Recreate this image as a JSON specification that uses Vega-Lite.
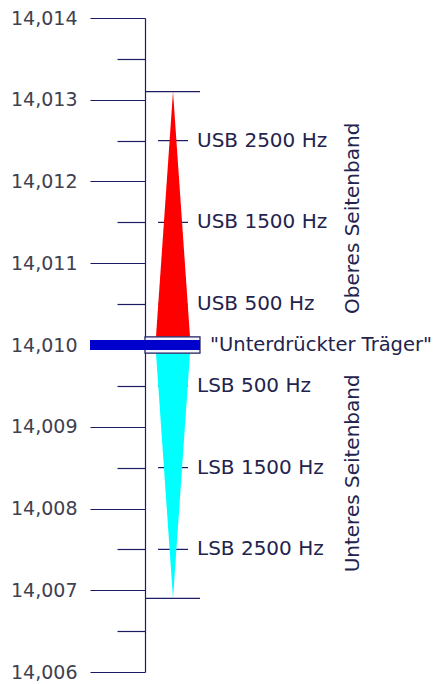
{
  "$schema": "https://vega.github.io/schema/vega-lite/v6.json",
  "width": 293,
  "height": 654,
  "autosize": "none",
  "padding": {"left": 145, "top": 18, "right": 0, "bottom": 12},
  "background": "white",
  "config": {"view": {"stroke": null}, "font": "DejaVu Sans"},
  "datasets": {
    "usb": [{"freq": 14.0101, "lo": -1, "hi": 1}, {"freq": 14.0131, "lo": 0, "hi": 0}],
    "lsb": [{"freq": 14.0099, "lo": -1, "hi": 1}, {"freq": 14.0069, "lo": 0, "hi": 0}],
    "labels": [
      {"freq": 14.0125, "label": "USB 2500 Hz"},
      {"freq": 14.0115, "label": "USB 1500 Hz"},
      {"freq": 14.0105, "label": "USB 500 Hz"},
      {"freq": 14.0095, "label": "LSB 500 Hz"},
      {"freq": 14.0085, "label": "LSB 1500 Hz"},
      {"freq": 14.0075, "label": "LSB 2500 Hz"}
    ],
    "edges": [{"freq": 14.0131}, {"freq": 14.0069}],
    "carrierBox": [{"freq": 14.0099, "freq2": 14.0101}],
    "carrier": [{"freq": 14.00994, "freq2": 14.01006, "label": "\"Unterdrückter Träger\""}],
    "bands": [
      {"freq": 14.01155, "label": "Oberes Seitenband"},
      {"freq": 14.00843, "label": "Unteres Seitenband"}
    ]
  },
  "encoding": {
    "y": {
      "field": "freq",
      "type": "quantitative",
      "scale": {"domain": [14.006, 14.014], "nice": false, "zero": false},
      "axis": {
        "orient": "left",
        "title": null,
        "grid": false,
        "values": [14.006, 14.0065, 14.007, 14.0075, 14.008, 14.0085, 14.009, 14.0095, 14.01, 14.0105, 14.011, 14.0115, 14.012, 14.0125, 14.013, 14.0135, 14.014],
        "tickSize": {"condition": {"test": "abs(datum.value*1000 - round(datum.value*1000)) < 0.01", "value": 55}, "value": 28},
        "labelExpr": "abs(datum.value*1000 - round(datum.value*1000)) < 0.01 ? replace(format(datum.value, '.3f'), '.', ',') : ''",
        "labelPadding": 13,
        "labelFont": "DejaVu Sans",
        "labelFontSize": 19,
        "labelColor": "#40404e",
        "labelOverlap": false,
        "labelFlush": false,
        "domainColor": "#1c1c64",
        "domainWidth": 1.2,
        "tickColor": "#1c1c64",
        "tickWidth": 1.2
      }
    }
  },
  "layer": [
    {
      "data": {"name": "labels"},
      "mark": {"type": "rule", "color": "#1c1c64", "strokeWidth": 1.2},
      "encoding": {
        "x": {"datum": -0.882, "type": "quantitative", "scale": {"domain": [-1.647, 15.588], "nice": false, "zero": false}, "axis": null},
        "x2": {"datum": 0.882}
      }
    },
    {
      "data": {"name": "usb"},
      "mark": {"type": "area", "orient": "horizontal", "color": "#ff0000"},
      "encoding": {
        "x": {"field": "lo", "type": "quantitative", "scale": {"domain": [-1.647, 15.588], "nice": false, "zero": false}, "axis": null},
        "x2": {"field": "hi"}
      }
    },
    {
      "data": {"name": "lsb"},
      "mark": {"type": "area", "orient": "horizontal", "color": "#00ffff"},
      "encoding": {
        "x": {"field": "lo", "type": "quantitative", "scale": {"domain": [-1.647, 15.588], "nice": false, "zero": false}, "axis": null},
        "x2": {"field": "hi"}
      }
    },
    {
      "data": {"name": "edges"},
      "mark": {"type": "rule", "color": "#1c1c64", "strokeWidth": 1.2},
      "encoding": {
        "x": {"datum": -1.647, "type": "quantitative", "scale": {"domain": [-1.647, 15.588], "nice": false, "zero": false}, "axis": null},
        "x2": {"datum": 1.588}
      }
    },
    {
      "data": {"name": "carrierBox"},
      "mark": {"type": "rect", "fill": "#f4f6fb", "stroke": "#1c1c64", "strokeWidth": 1.2},
      "encoding": {
        "x": {"datum": -1.647, "type": "quantitative", "scale": {"domain": [-1.647, 15.588], "nice": false, "zero": false}, "axis": null},
        "x2": {"datum": 1.588},
        "y2": {"field": "freq2"}
      }
    },
    {
      "data": {"name": "carrier"},
      "mark": {"type": "rect", "fill": "#0000cc"},
      "encoding": {
        "x": {"datum": -4.882, "type": "quantitative", "scale": {"domain": [-1.647, 15.588], "nice": false, "zero": false}, "axis": null},
        "x2": {"datum": 1.588},
        "y2": {"field": "freq2"}
      }
    },
    {
      "data": {"name": "carrier"},
      "transform": [{"calculate": "(datum.freq + datum.freq2) / 2", "as": "mid"}],
      "mark": {"type": "text", "align": "left", "baseline": "middle", "font": "DejaVu Sans", "fontSize": 19.5, "color": "#23234d"},
      "encoding": {
        "x": {"datum": 2.18, "type": "quantitative", "scale": {"domain": [-1.647, 15.588], "nice": false, "zero": false}, "axis": null},
        "y": {"field": "mid", "type": "quantitative"},
        "text": {"field": "label"}
      }
    },
    {
      "data": {"name": "labels"},
      "mark": {"type": "text", "align": "left", "baseline": "middle", "font": "DejaVu Sans", "fontSize": 20, "color": "#23234d"},
      "encoding": {
        "x": {"datum": 1.412, "type": "quantitative", "scale": {"domain": [-1.647, 15.588], "nice": false, "zero": false}, "axis": null},
        "text": {"field": "label"}
      }
    },
    {
      "data": {"name": "bands"},
      "mark": {"type": "text", "align": "center", "baseline": "middle", "angle": 270, "font": "DejaVu Sans", "fontSize": 20, "color": "#23234d"},
      "encoding": {
        "x": {"datum": 10.59, "type": "quantitative", "scale": {"domain": [-1.647, 15.588], "nice": false, "zero": false}, "axis": null},
        "text": {"field": "label"}
      }
    }
  ]
}
